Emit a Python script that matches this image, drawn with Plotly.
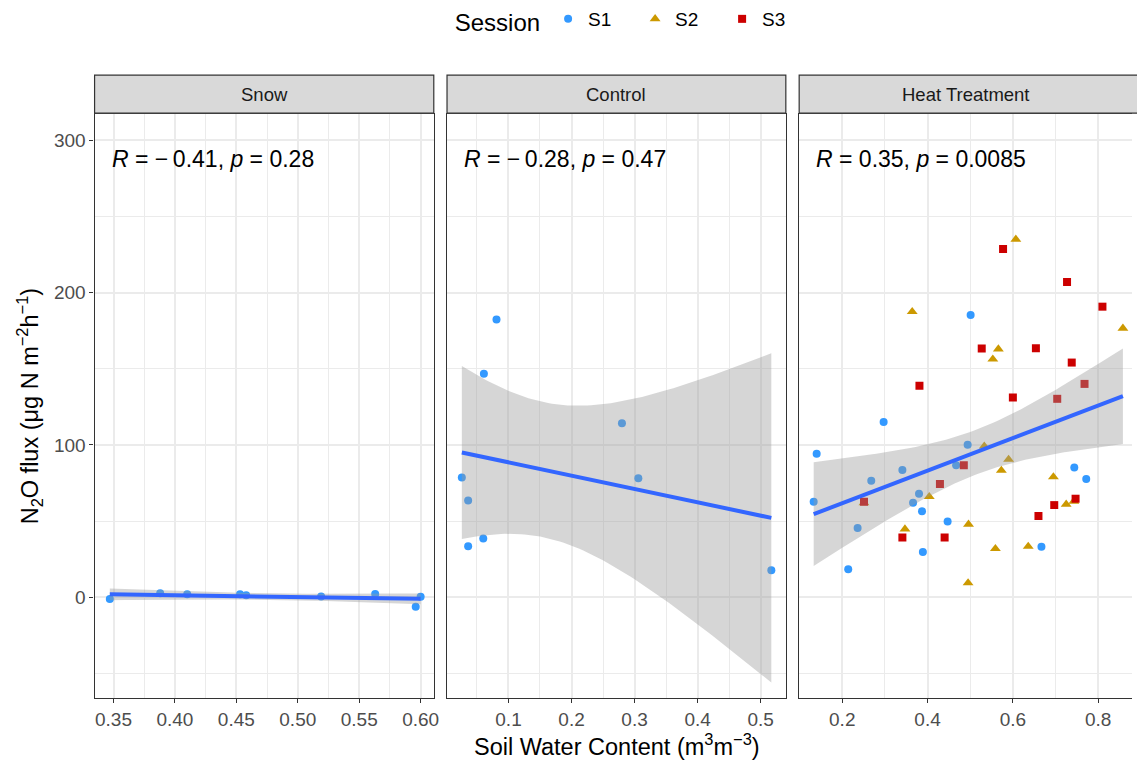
import numpy as np
import plotly.graph_objects as go

# ---------------- data ----------------
panels = ["Snow", "Control", "Heat Treatment"]
sessions = ["S1", "S2", "S3"]

snow_x = [0.347, 0.388, 0.410, 0.453, 0.458, 0.519, 0.563, 0.596, 0.600]
snow_y = [-1.1, 2.7, 1.9, 1.9, 1.3, 0.5, 2.1, -6.2, 0.3]

control_x = [0.026, 0.036, 0.036, 0.060, 0.061, 0.081, 0.280, 0.306, 0.517]
control_y = [78.7, 63.5, 33.5, 38.6, 146.7, 182.3, 114.3, 78.2, 17.7]

heat_s1_x = [0.140, 0.133, 0.297, 0.501, 0.268, 0.236, 0.214, 0.341, 0.366,
             0.380, 0.387, 0.389, 0.447, 0.467, 0.494, 0.744, 0.772, 0.667]
heat_s1_y = [94.2, 62.7, 115.0, 185.4, 76.5, 45.5, 18.4, 83.5, 62.1,
             68.0, 56.4, 29.7, 49.8, 86.6, 100.1, 85.2, 77.6, 33.2]

heat_s2_x = [0.607, 0.364, 0.858, 0.566, 0.553, 0.533, 0.590, 0.573, 0.695,
             0.404, 0.251, 0.347, 0.496, 0.725, 0.743, 0.559, 0.636, 0.495]
heat_s2_y = [235.0, 187.5, 176.6, 163.0, 156.3, 99.2, 90.5, 83.3, 79.0,
             66.0, 62.0, 44.8, 47.9, 61.0, 63.0, 31.9, 33.4, 9.4]

heat_s3_x = [0.577, 0.727, 0.810, 0.527, 0.654, 0.738, 0.768, 0.381, 0.600,
             0.704, 0.485, 0.429, 0.251, 0.747, 0.697, 0.660, 0.341, 0.440]
heat_s3_y = [228.6, 207.0, 190.8, 163.3, 163.5, 154.1, 140.1, 138.8, 131.1,
             130.3, 86.6, 74.3, 62.7, 64.7, 60.5, 53.3, 39.3, 39.3]

cor_labels = ["<i>R</i> = \u2212\u20090.41, <i>p</i> = 0.28",
              "<i>R</i> = \u2212\u20090.28, <i>p</i> = 0.47",
              "<i>R</i> = 0.35, <i>p</i> = 0.0085"]

snow_ticks = [0.35, 0.40, 0.45, 0.50, 0.55, 0.60]
control_ticks = [0.1, 0.2, 0.3, 0.4, 0.5]
heat_ticks = [0.2, 0.4, 0.6, 0.8]
y_ticks = [0, 100, 200, 300]

# t quantiles (0.975) for df = n - 2
T975 = {7: 2.364624, 52: 2.006647}

# ---------------- style ----------------
W, H = 1137, 764
FONT = "Liberation Sans, Arial, sans-serif"
COL = {"S1": "#3399FF", "S2": "#CC9900", "S3": "#CC0000"}
SYM = {"S1": "circle", "S2": "triangle-up", "S3": "square"}
SIZE = {"S1": 8, "S2": 9.5, "S3": 8}
GRID = "#EBEBEB"
BORDER = "#333333"


def px(x):
    return x / W


def py(y):
    return 1 - y / H


x_dom = [[px(95), px(435.7)], [px(449), px(789.3)], [px(802.7), 1.0]]
y_dom = [py(697.7), py(113)]
x_rng = [[0.3346, 0.6107], [0.0025, 0.540], [0.099, 0.8793]]
y_rng = [-66.0, 317.4]


def fit_band(x, y):
    x = np.asarray(x, float)
    y = np.asarray(y, float)
    n = len(x)
    b1, b0 = np.polyfit(x, y, 1)
    xs = np.linspace(x.min(), x.max(), 80)
    yhat = b0 + b1 * xs
    resid = y - (b0 + b1 * x)
    s = np.sqrt(np.sum(resid ** 2) / (n - 2))
    sxx = np.sum((x - x.mean()) ** 2)
    se = s * np.sqrt(1.0 / n + (xs - x.mean()) ** 2 / sxx)
    t = T975[n - 2]
    return xs, yhat, yhat - t * se, yhat + t * se


fig = go.Figure()

panel_data = [
    [("S1", snow_x, snow_y)],
    [("S1", control_x, control_y)],
    [("S1", heat_s1_x, heat_s1_y), ("S2", heat_s2_x, heat_s2_y), ("S3", heat_s3_x, heat_s3_y)],
]

for i, groups in enumerate(panel_data):
    xa = "x" if i == 0 else f"x{i+1}"
    ya = "y" if i == 0 else f"y{i+1}"
    allx, ally = [], []
    for ses, xs, ys in groups:
        fig.add_trace(go.Scatter(
            x=xs, y=ys, mode="markers", name=ses, legendgroup=ses,
            showlegend=(i == 2),
            marker=dict(color=COL[ses], symbol=SYM[ses], size=SIZE[ses], line=dict(width=0)),
            xaxis=xa, yaxis=ya, hoverinfo="skip"))
        allx += list(xs)
        ally += list(ys)
    xs, yhat, lo, hi = fit_band(allx, ally)
    fig.add_trace(go.Scatter(
        x=list(xs) + list(xs[::-1]), y=list(hi) + list(lo[::-1]),
        fill="toself", fillcolor="rgba(153,153,153,0.4)", line=dict(width=0),
        mode="lines", showlegend=False, xaxis=xa, yaxis=ya, hoverinfo="skip"))
    fig.add_trace(go.Scatter(
        x=xs, y=yhat, mode="lines", line=dict(color="#3366FF", width=4),
        showlegend=False, xaxis=xa, yaxis=ya, hoverinfo="skip"))
    fig.add_annotation(
        x=min(allx), y=288, xref=xa, yref=ya, text=cor_labels[i],
        showarrow=False, xanchor="left", yanchor="middle",
        font=dict(family=FONT, size=23, color="black"))

layout = dict(
    width=W, height=H, autosize=False,
    margin=dict(l=0, r=0, t=0, b=0),
    paper_bgcolor="white", plot_bgcolor="white",
    font=dict(family=FONT, color="black"),
    showlegend=True,
    legend=dict(
        orientation="h", x=px(634), xanchor="center", y=py(20), yanchor="middle",
        title=dict(text="Session", font=dict(size=24, family=FONT, color="black"), side="left"),
        font=dict(size=19, family=FONT, color="black"),
        bgcolor="rgba(0,0,0,0)", itemsizing="trace", entrywidth=42, entrywidthmode="pixels"),
)

tickvals = [snow_ticks, control_ticks, heat_ticks]
tickfmt = [".2f", ".1f", ".1f"]
minor_dt = [0.025, 0.05, 0.1]
minor_t0 = [0.325, 0.05, 0.1]
for i in range(3):
    key = "xaxis" if i == 0 else f"xaxis{i+1}"
    ykey = "yaxis" if i == 0 else f"yaxis{i+1}"
    layout[key] = dict(
        domain=x_dom[i], range=x_rng[i], anchor="y" if i == 0 else f"y{i+1}",
        tickmode="array", tickvals=tickvals[i], tickformat=tickfmt[i],
        ticks="outside", ticklen=4, tickwidth=1.2, tickcolor=BORDER,
        tickfont=dict(family=FONT, size=19, color="#4D4D4D"),
        showgrid=True, gridcolor=GRID, gridwidth=1.6,
        minor=dict(tick0=minor_t0[i], dtick=minor_dt[i], showgrid=True, gridcolor=GRID,
                   gridwidth=0.9, ticks=""),
        showline=True, mirror=True, linecolor=BORDER, linewidth=1.2,
        zeroline=False, fixedrange=True)
    layout[ykey] = dict(
        domain=y_dom, range=y_rng, anchor="x" if i == 0 else f"x{i+1}",
        tickmode="array", tickvals=y_ticks,
        ticks="outside" if i == 0 else "", ticklen=4, tickwidth=1.2, tickcolor=BORDER,
        showticklabels=(i == 0),
        tickfont=dict(family=FONT, size=19, color="#4D4D4D"),
        showgrid=True, gridcolor=GRID, gridwidth=1.6,
        minor=dict(tick0=-50, dtick=50, showgrid=True, gridcolor=GRID, gridwidth=0.9, ticks=""),
        showline=True, mirror=(i < 2), linecolor=BORDER, linewidth=1.2,
        zeroline=False, fixedrange=True)

fig.update_layout(**layout)

# facet strips
strip_x = [(95, 435.7), (449, 789.3), (802.7, 1150)]
for i, (a, b) in enumerate(strip_x):
    fig.add_shape(type="rect", xref="paper", yref="paper",
                  x0=px(a), x1=px(b), y0=py(112.3), y1=py(74.3),
                  fillcolor="#D9D9D9", line=dict(color=BORDER, width=1.2), layer="above")
    cx = (a + min(b, W)) / 2
    fig.add_annotation(x=px(cx), y=py(94), xref="paper", yref="paper",
                       text=panels[i], showarrow=False, xanchor="center", yanchor="middle",
                       font=dict(family=FONT, size=18.5, color="#1A1A1A"))

# axis titles
fig.add_annotation(x=px(620), y=py(745), xref="paper", yref="paper",
                   text="Soil Water Content (m<sup>3</sup>m<sup>\u22123</sup>)",
                   showarrow=False, xanchor="center", yanchor="middle",
                   font=dict(family=FONT, size=23.5, color="black"))
fig.add_annotation(x=px(30), y=py(405), xref="paper", yref="paper",
                   text="N<sub>2</sub>O flux (\u03bcg N m<sup>\u22122</sup>h<sup>\u22121</sup>)",
                   showarrow=False, xanchor="center", yanchor="middle", textangle=-90,
                   font=dict(family=FONT, size=23.5, color="black"))

fig.write_html("out.html",
               config={"displayModeBar": False},
               post_script="document.body.style.margin='0';document.body.style.padding='0';"
                           "document.body.style.overflow='hidden';")
